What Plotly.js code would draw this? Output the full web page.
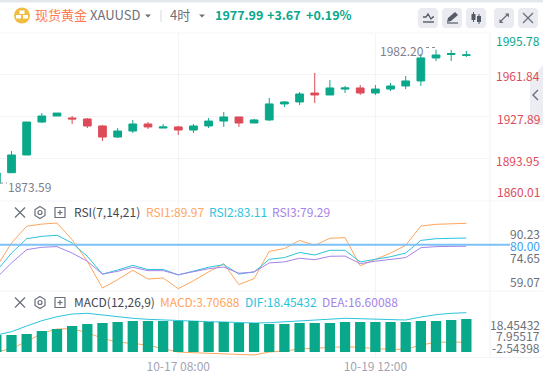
<!DOCTYPE html>
<html><head><meta charset="utf-8">
<script src="https://cdn.plot.ly/plotly-3.0.1.min.js"></script>
<style>html,body{margin:0;padding:0;background:#fff;overflow:hidden}#c{width:543px;height:376px}</style>
</head><body><div id="c"></div>
<script>
var bars=[-1,0,1,2,3,4,5,6,7,8,9,10,11,12,13,14,15,16,17,18,19,20,21,22,23,24,25,26,27,28,29,30];
var opens=[1873.6,1882.2,1896.6,1923.4,1928.3,1926.7,1925.9,1920.2,1911.2,1916.1,1921.8,1918.5,1919.4,1916.9,1920.2,1924.2,1927.5,1922.6,1925.1,1938.1,1939.7,1947,1945.4,1950.2,1951.1,1947,1950.2,1952.7,1956.8,1975.5,1978.3,1977.6];
var highs=[1882,1899.8,1923.4,1930.7,1930.7,1928.3,1926.7,1921,1918.5,1925.1,1923.4,1921.8,1920.2,1921.8,1926.7,1931.5,1927.5,1925.9,1943,1940.5,1947.8,1963.3,1957.6,1952.7,1953.5,1953.5,1955.1,1960.8,1978.7,1982.2,1982,1981.1];
var lows=[1873.59,1882.2,1896.6,1922.6,1928.3,1921.8,1918.5,1908,1910.4,1914.5,1917.7,1918.5,1912.9,1914.5,1918.5,1919.4,1919.4,1922.6,1924.2,1935.6,1937.2,1938.9,1945.4,1947,1945.4,1945.4,1948.6,1950.2,1952.7,1973,1973,1976.3];
var closes=[1882,1896.6,1923.4,1928.3,1930.7,1925.9,1920.2,1911.2,1916.1,1921.8,1919.4,1919.4,1916.9,1920.2,1924.2,1927.5,1922.6,1925.1,1938.1,1939.7,1946.2,1945.4,1951.1,1951.1,1947,1950.2,1952.7,1956.8,1975.5,1977.9,1979.1,1977.99];
var rsi1=[69.5,80.8,88.6,89.6,90.1,82.3,72.3,59.8,63.7,68.1,64,64.5,59.5,63.2,67.3,71.2,61.4,64.2,76.9,78.2,82,79.7,83,83.3,70.2,73,76.1,79.7,88.7,89.5,89.6,89.97];
var rsi2=[67.6,76.1,82.8,83.9,84.4,80.8,74.6,66.3,68.2,70.4,68.4,68.5,65.9,67.6,69.5,70.7,66.3,67.3,73.2,74,76.4,75.2,77.4,77.4,72,73.2,74.4,76.1,82,82.8,83,83.11];
var rsi3=[64.5,71.5,77.7,78.8,79.1,76.1,72.3,66.3,67.6,69.5,67.9,67.9,66,67.3,68.8,69.6,66.7,67.3,71.5,72,73.7,73,74.6,74.7,71.2,72.3,73,74,78.6,79.1,79.2,79.29];
var macdBars=[7.35,7.35,7.85,9.35,10.35,11.85,12.85,13.35,13.85,14.35,14.35,14.35,14.35,14.35,13.85,13.85,13.35,13.35,12.85,12.85,13.35,13.35,13.35,13.85,13.85,13.85,13.85,13.85,14.35,14.35,14.85,15.35];
var dif=[7.35,9,11.85,14.5,16.5,17.85,18.2,17.35,16.5,15.7,15.2,14.85,14.7,14.5,14,13.85,13.5,13.35,13.5,14,14.5,15,15.35,15.7,15.5,15.2,14.85,14.85,16.35,17.5,18.2,18.5];
var dea=[-1.3,0.7,4,8.2,10.35,10.5,8.5,5.7,3.7,3.2,2.2,0.5,-1.15,-1.5,-1.8,-2,-2.5,-2.65,-1.15,-0.65,0.35,0.85,1.2,1.5,1.2,0.5,0.2,0.2,2.35,3.7,3.85,3.7];
var priceTicks=[1995.78,1961.84,1927.89,1893.95,1860.01];
var timeTickVals=[11,24];
var timeTickText=['10-17 08:00','10-19 12:00'];

var W=543,H=376,GREEN='#0aa88a',RED='#dd4b59',ORANGE='#ffa65c',CYAN='#2cc4dc',PURPLE='#a583ea',GRID='#f3f4f8',FONT='"Noto Sans CJK SC","Noto Sans",sans-serif';
var BASE=-1.15;
function px(x){return x/W}function py(y){return 1-y/H}
function T(x,y,text,color,size,anchor,weight){return {xref:'paper',yref:'paper',x:px(x),y:py(y-0.7),text:text,showarrow:false,xanchor:anchor||'left',yanchor:'middle',font:{family:FONT,size:size||12,color:color,weight:weight||400},borderpad:0,borderwidth:0}}
function R(x0,y0,x1,y1,fill){return {type:'rect',xref:'paper',yref:'paper',x0:px(x0),x1:px(x1),y0:py(y0),y1:py(y1),fillcolor:fill,line:{width:0},layer:'above'}}
function L(x0,y0,x1,y1,c,w,d){return {type:'line',xref:'paper',yref:'paper',x0:px(x0),x1:px(x1),y0:py(y0),y1:py(y1),line:{color:c,width:w||1,dash:d||'solid'},layer:'above'}}
function P(pts,fill,c,w,close){var s=pts.map(function(p,i){return (i?'L':'M')+px(p[0])+','+py(p[1])}).join(' ')+(close?' Z':'');
 return {type:'path',xref:'paper',yref:'paper',path:s,fillcolor:fill||'rgba(0,0,0,0)',line:{color:c||'rgba(0,0,0,0)',width:w===undefined?1:w},layer:'above'}}
function RR(x0,y0,x1,y1,r,fill){var k=r;var s='M'+px(x0+k)+','+py(y0)+' L'+px(x1-k)+','+py(y0)+' Q'+px(x1)+','+py(y0)+' '+px(x1)+','+py(y0+k)+' L'+px(x1)+','+py(y1-k)+' Q'+px(x1)+','+py(y1)+' '+px(x1-k)+','+py(y1)+' L'+px(x0+k)+','+py(y1)+' Q'+px(x0)+','+py(y1)+' '+px(x0)+','+py(y1-k)+' L'+px(x0)+','+py(y0+k)+' Q'+px(x0)+','+py(y0)+' '+px(x0+k)+','+py(y0)+' Z';
 return {type:'path',xref:'paper',yref:'paper',path:s,fillcolor:fill,line:{width:0},layer:'above'}}
function C(cx,cy,r,fill){return {type:'circle',xref:'paper',yref:'paper',x0:px(cx-r),x1:px(cx+r),y0:py(cy-r),y1:py(cy+r),fillcolor:fill,line:{width:0},layer:'above'}}
function tools(y){var g='#6b6f7b';return [
 L(15,y-5,25,y+5,g,1.2),L(25,y-5,15,y+5,g,1.2),
 P([[40,y-6],[45,y-3],[45,y+3],[40,y+6],[35,y+3],[35,y-3]],null,g,1.2,true),
 {type:'circle',xref:'paper',yref:'paper',x0:px(38),x1:px(42),y0:py(y-2),y1:py(y+2),line:{color:g,width:1.2},fillcolor:'rgba(0,0,0,0)',layer:'above'},
 {type:'rect',xref:'paper',yref:'paper',x0:px(55),x1:px(65),y0:py(y-5),y1:py(y+5),line:{color:g,width:1.2},fillcolor:'rgba(0,0,0,0)',layer:'above'},
 L(57.5,y,62.5,y,g,1.2),L(60,y-2.5,60,y+2.5,g,1.2)];}

var shapes=[
 R(0,0,543,2.5,'#e4e7ec'),
 L(0,33,490,33,GRID),L(0,201,543,201,GRID),L(0,291,543,291,GRID),L(0,357.5,543,357.5,GRID),L(490,33,490,357.5,'#eff1f5'),
 P([[543,65],[530,80],[530,121],[534,125],[543,125]],'#ecedf3',null,0,true),
 P([[538,90],[533,95],[538,100]],null,'#6b6f7b',1.4),
 C(22,15.5,8,'#f0bd42'),R(19.5,10.5,24.5,14,'#fff'),R(16,15,21,18.5,'#fff'),R(23,15,28,18.5,'#fff'),
 P([[145,14.5],[151,14.5],[148,17.5]],'#6e7079',null,0,true),
 L(161,10,161,22,'#d5d8de'),
 P([[199,14.5],[205,14.5],[202,17.5]],'#6e7079',null,0,true),
 RR(418,8,438,28,4,'#e9ebf1'),RR(442,8,462,28,4,'#e9ebf1'),RR(466,8,486,28,4,'#e9ebf1'),RR(494,8,514,28,4,'#e9ebf1'),RR(518,8,538,28,4,'#e9ebf1'),
 P([[423,17],[426,17],[428,14],[431,19],[433,17],[434,17]],null,'#555b66',1.3),L(423,22,434,22,'#555b66',1.4),
 P([[447,22],[448,18],[455,12],[458,15],[451,21]],'#555b66',null,0,true),L(447,23,458,23,'#555b66',1.2),
 R(471.5,14,475.5,20,'#555b66'),L(473.5,12,473.5,22,'#555b66',1),R(477,16,481,22,'#555b66'),L(479,14,479,24,'#555b66',1),
 L(500,22,508,14,'#6b6f7b',1.2),P([[505,13.5],[509,13.5],[509,17.5]],'#6b6f7b',null,0,true),P([[499.5,19],[499.5,23],[503.5,23]],'#6b6f7b',null,0,true),
 L(523,13,533,23,'#6b6f7b',1.2),L(533,13,523,23,'#6b6f7b',1.2),
 L(426,47.5,438,47.5,'#8a8d99',1,'dot'),L(0,183,7,183,'#8a8d99',1,'dot'),
 {type:'line',xref:'paper',yref:'y2',x0:0,x1:510/W,y0:80,y1:80,line:{color:'#7cc0f5',width:2},layer:'above'}
].concat(tools(212.5),tools(302.5));

var annotations=[
 T(35,15.5,'现货黄金','#ff7a50',13),T(90,15.5,'XAUUSD','#6e7079',13),T(170,15.5,'4时','#6e7079',13),
 T(215,15.5,'1977.99',GREEN,12.5,'left',600),T(267,15.5,'+3.67',GREEN,12.5,'left',600),T(306,15.5,'+0.19%',GREEN,12.5,'left',600),
 T(539.5,41.5,'1995.78',GREEN,12,'right'),T(539.5,76.5,'1961.84',RED,12,'right'),T(539.5,119.5,'1927.89',RED,12,'right'),T(539.5,161.5,'1893.95',RED,12,'right'),T(539.5,192.5,'1860.01',RED,12,'right'),
 T(380,51,'1982.20','#7d808c',12),T(8,187.5,'1873.59','#7d808c',12),
 T(74,212.5,'RSI(7,14,21)','#444750',12),T(146,212.5,'RSI1:89.97',ORANGE,12),T(209,212.5,'RSI2:83.11',CYAN,12),T(272,212.5,'RSI3:79.29',PURPLE,12),
 T(540,234,'90.23','#6e7079',12,'right'),T(540,246,'80.00','#3a9ff5',12,'right'),T(540,258.5,'74.65','#6e7079',12,'right'),T(540,282.5,'59.07','#6e7079',12,'right'),
 T(74,302.5,'MACD(12,26,9)','#444750',12),T(160,302.5,'MACD:3.70688',ORANGE,12),T(245,302.5,'DIF:18.45432',CYAN,12),T(322,302.5,'DEA:16.60088',PURPLE,12),
 T(540,325,'18.45432','#6e7079',12,'right'),T(540,336.5,'7.95517','#6e7079',12,'right'),T(540,348.5,'-2.54398','#6e7079',12,'right')
];

function lineTrace(y,c,ax){return {type:'scatter',mode:'lines',x:bars,y:y,xaxis:'x',yaxis:ax,line:{color:c,width:1},hoverinfo:'skip',showlegend:false,cliponaxis:true}}
var traces=[
 {type:'candlestick',x:bars,open:opens,high:highs,low:lows,close:closes,xaxis:'x',yaxis:'y',whiskerwidth:0,
  increasing:{line:{color:GREEN,width:1},fillcolor:GREEN},decreasing:{line:{color:RED,width:1},fillcolor:RED},showlegend:false,hoverinfo:'skip'},
 lineTrace(rsi1,ORANGE,'y2'),lineTrace(rsi2,CYAN,'y2'),lineTrace(rsi3,PURPLE,'y2'),
 lineTrace(dea,ORANGE,'y3'),lineTrace(dif,CYAN,'y3'),
 {type:'bar',x:bars,y:macdBars.map(function(v){return v-BASE}),base:BASE,width:0.68,xaxis:'x',yaxis:'y4',marker:{color:GREEN,line:{width:0}},showlegend:false,hoverinfo:'skip'}
];
var layout={width:W,height:H,margin:{l:0,r:0,t:0,b:0,pad:0},paper_bgcolor:'#fff',plot_bgcolor:'#fff',showlegend:false,boxgap:0.27,
 font:{family:FONT},
 xaxis:{domain:[0,490/W],range:[-0.7586,31.56],anchor:'y3',tickmode:'array',tickvals:timeTickVals,ticktext:timeTickText,showgrid:true,gridcolor:GRID,gridwidth:1,zeroline:false,showline:false,ticks:'',tickfont:{family:FONT,size:12,color:'#a2a4b2'},rangeslider:{visible:false},fixedrange:true},
 yaxis:{domain:[py(200),py(33)],range:[1860.01,1995.78],side:'right',anchor:'x',tickmode:'array',tickvals:priceTicks,ticktext:priceTicks.map(function(){return ''}),showticklabels:false,showgrid:true,gridcolor:GRID,zeroline:false,showline:false,ticks:'',fixedrange:true},
 yaxis2:{domain:[py(291),py(201)],range:[58.43,100.36],anchor:'x',showticklabels:false,showgrid:false,zeroline:false,ticks:'',fixedrange:true},
 yaxis3:{domain:[py(357.5),py(291)],range:[-3.9,29.35],anchor:'x',showticklabels:false,showgrid:false,zeroline:false,ticks:'',fixedrange:true},
 yaxis4:{overlaying:'y3',range:[-3.9,29.35],anchor:'x',showticklabels:false,showgrid:false,zeroline:false,ticks:'',fixedrange:true},
 shapes:shapes,annotations:annotations};
Plotly.newPlot('c',traces,layout,{displayModeBar:false,staticPlot:true});
</script></body></html>
